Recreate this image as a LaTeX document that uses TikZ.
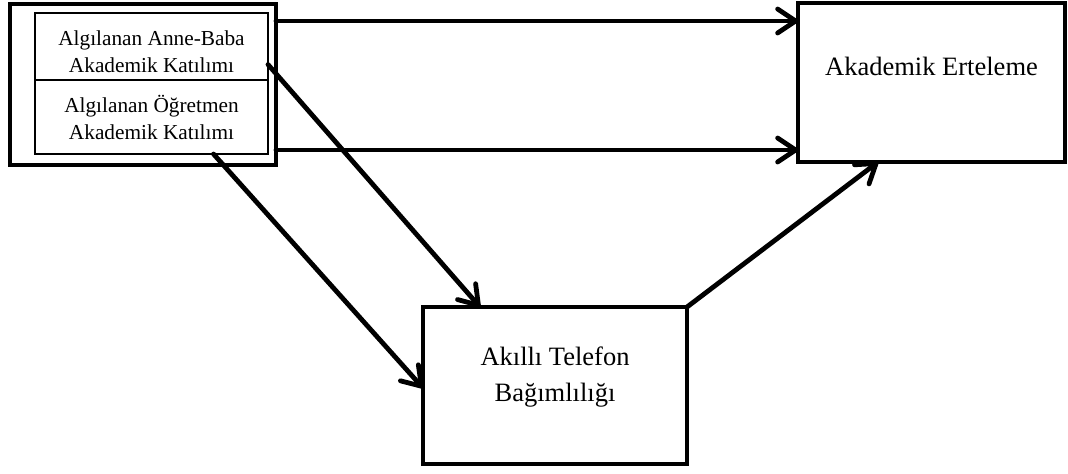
\documentclass[tikz,border=0pt]{standalone}
\usepackage{fontspec}
\setmainfont{Liberation Serif}
\usetikzlibrary{arrows.meta,positioning}

\begin{document}
\begin{tikzpicture}[x=0.5pt,y=-0.5pt,->,>={Straight Barb[length=9pt,width=12pt,round]},
line width=2.4pt,line cap=round,
main node/.style={rectangle,draw,line width=2.4pt,outer sep=0pt,inner sep=0pt,
  align=center,font=\fontsize{13.25}{18}\selectfont},
group node/.style={rectangle,draw,line width=2.2pt,outer sep=0pt},
item node/.style={rectangle,draw,line width=0.6pt,outer sep=0pt,inner sep=0pt,
  align=center,minimum width=116.5pt,font=\fontsize{10.65}{13.5}\selectfont}]

\useasboundingbox (0,0) rectangle (1068,473);

\node[group node,minimum width=133pt,minimum height=80.5pt] (src) at (143,84.5) {};
\node[item node,minimum height=33.5pt,text height=26pt] (ab) at (151.5,46.5) {Algılanan Anne-Baba\\Akademik Katılımı};
\node[item node,minimum height=37pt,below=0pt of ab] (ogr) {Algılanan Öğretmen\\Akademik Katılımı};

\node[main node,minimum width=133.5pt,text height=36pt,text depth=43.5pt] (ert) at (931.5,82.5) {Akademik Erteleme};
\node[main node,minimum width=132pt,minimum height=78.5pt,text depth=11pt] (tel) at (555,385.5) {Akıllı Telefon\\Bağımlılığı};

\draw ([yshift=-8.5pt]src.north east) -- ([yshift=-8.5pt]src.north east -| ert.west);
\draw ([yshift=7.5pt]src.south east) -- ([yshift=7.5pt]src.south east -| ert.west);
\draw ([yshift=-9pt]ab.east) -- ([xshift=-37.5pt]tel.north);
\draw ([xshift=31pt]ogr.south) -- ([yshift=-1.25pt]tel.west);
\draw[line cap=butt] (tel.north east) -- ([xshift=-26.75pt]ert.south);
\end{tikzpicture}
\end{document}
